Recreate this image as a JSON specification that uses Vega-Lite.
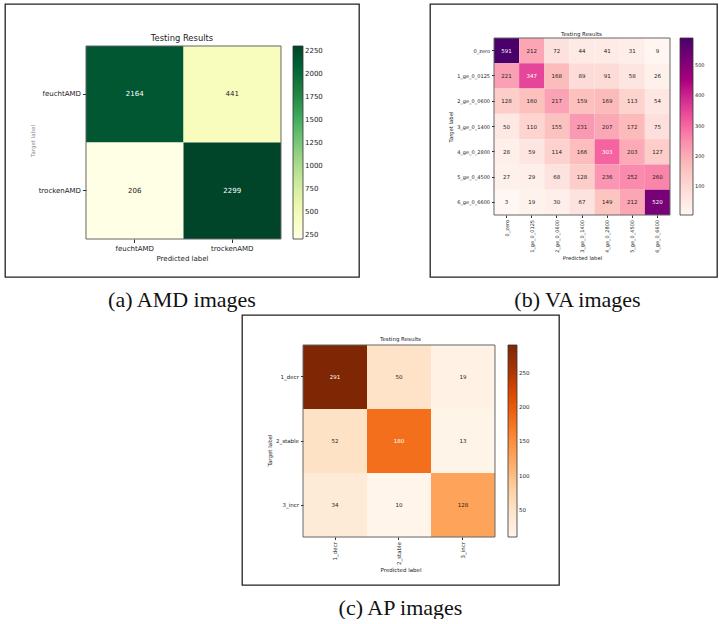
{
  "$schema": "https://vega.github.io/schema/vega-lite/v6.json",
  "padding": {"left": 4, "top": 3, "right": 2, "bottom": 0},
  "background": "white",
  "config": {
    "font": "DejaVu Sans",
    "view": {"stroke": "#222", "strokeWidth": 1.3},
    "axis": {"domain": false, "grid": false, "tickColor": "#333", "tickSize": 3.5, "labelColor": "#222", "titleColor": "#222", "titleFontWeight": "normal", "labelPadding": 2, "titlePadding": 3, "labelFont": "DejaVu Sans", "titleFont": "DejaVu Sans"},
    "legend": {"labelColor": "#222", "labelOverlap": false, "labelFont": "DejaVu Sans"},
    "title": {"fontWeight": "normal", "color": "#222", "font": "DejaVu Sans"}
  },
  "datasets": {
    "amd": [
      {"target": "feuchtAMD", "predicted": "feuchtAMD", "value": 2164},
      {"target": "feuchtAMD", "predicted": "trockenAMD", "value": 441},
      {"target": "trockenAMD", "predicted": "feuchtAMD", "value": 206},
      {"target": "trockenAMD", "predicted": "trockenAMD", "value": 2299}
    ],
    "va": [
      {"target": "0_zero", "predicted": "0_zero", "value": 591},
      {"target": "0_zero", "predicted": "1_ge_0_0125", "value": 212},
      {"target": "0_zero", "predicted": "2_ge_0_0600", "value": 72},
      {"target": "0_zero", "predicted": "3_ge_0_1400", "value": 44},
      {"target": "0_zero", "predicted": "4_ge_0_2800", "value": 41},
      {"target": "0_zero", "predicted": "5_ge_0_4500", "value": 31},
      {"target": "0_zero", "predicted": "6_ge_0_6600", "value": 9},
      {"target": "1_ge_0_0125", "predicted": "0_zero", "value": 221},
      {"target": "1_ge_0_0125", "predicted": "1_ge_0_0125", "value": 347},
      {"target": "1_ge_0_0125", "predicted": "2_ge_0_0600", "value": 168},
      {"target": "1_ge_0_0125", "predicted": "3_ge_0_1400", "value": 89},
      {"target": "1_ge_0_0125", "predicted": "4_ge_0_2800", "value": 91},
      {"target": "1_ge_0_0125", "predicted": "5_ge_0_4500", "value": 58},
      {"target": "1_ge_0_0125", "predicted": "6_ge_0_6600", "value": 26},
      {"target": "2_ge_0_0600", "predicted": "0_zero", "value": 128},
      {"target": "2_ge_0_0600", "predicted": "1_ge_0_0125", "value": 160},
      {"target": "2_ge_0_0600", "predicted": "2_ge_0_0600", "value": 217},
      {"target": "2_ge_0_0600", "predicted": "3_ge_0_1400", "value": 159},
      {"target": "2_ge_0_0600", "predicted": "4_ge_0_2800", "value": 169},
      {"target": "2_ge_0_0600", "predicted": "5_ge_0_4500", "value": 113},
      {"target": "2_ge_0_0600", "predicted": "6_ge_0_6600", "value": 54},
      {"target": "3_ge_0_1400", "predicted": "0_zero", "value": 50},
      {"target": "3_ge_0_1400", "predicted": "1_ge_0_0125", "value": 110},
      {"target": "3_ge_0_1400", "predicted": "2_ge_0_0600", "value": 155},
      {"target": "3_ge_0_1400", "predicted": "3_ge_0_1400", "value": 231},
      {"target": "3_ge_0_1400", "predicted": "4_ge_0_2800", "value": 207},
      {"target": "3_ge_0_1400", "predicted": "5_ge_0_4500", "value": 172},
      {"target": "3_ge_0_1400", "predicted": "6_ge_0_6600", "value": 75},
      {"target": "4_ge_0_2800", "predicted": "0_zero", "value": 28},
      {"target": "4_ge_0_2800", "predicted": "1_ge_0_0125", "value": 59},
      {"target": "4_ge_0_2800", "predicted": "2_ge_0_0600", "value": 114},
      {"target": "4_ge_0_2800", "predicted": "3_ge_0_1400", "value": 166},
      {"target": "4_ge_0_2800", "predicted": "4_ge_0_2800", "value": 303},
      {"target": "4_ge_0_2800", "predicted": "5_ge_0_4500", "value": 203},
      {"target": "4_ge_0_2800", "predicted": "6_ge_0_6600", "value": 127},
      {"target": "5_ge_0_4500", "predicted": "0_zero", "value": 27},
      {"target": "5_ge_0_4500", "predicted": "1_ge_0_0125", "value": 29},
      {"target": "5_ge_0_4500", "predicted": "2_ge_0_0600", "value": 68},
      {"target": "5_ge_0_4500", "predicted": "3_ge_0_1400", "value": 128},
      {"target": "5_ge_0_4500", "predicted": "4_ge_0_2800", "value": 236},
      {"target": "5_ge_0_4500", "predicted": "5_ge_0_4500", "value": 252},
      {"target": "5_ge_0_4500", "predicted": "6_ge_0_6600", "value": 260},
      {"target": "6_ge_0_6600", "predicted": "0_zero", "value": 3},
      {"target": "6_ge_0_6600", "predicted": "1_ge_0_0125", "value": 19},
      {"target": "6_ge_0_6600", "predicted": "2_ge_0_0600", "value": 30},
      {"target": "6_ge_0_6600", "predicted": "3_ge_0_1400", "value": 67},
      {"target": "6_ge_0_6600", "predicted": "4_ge_0_2800", "value": 149},
      {"target": "6_ge_0_6600", "predicted": "5_ge_0_4500", "value": 212},
      {"target": "6_ge_0_6600", "predicted": "6_ge_0_6600", "value": 520}
    ],
    "ap": [
      {"target": "1_decr", "predicted": "1_decr", "value": 291},
      {"target": "1_decr", "predicted": "2_stable", "value": 50},
      {"target": "1_decr", "predicted": "3_incr", "value": 19},
      {"target": "2_stable", "predicted": "1_decr", "value": 52},
      {"target": "2_stable", "predicted": "2_stable", "value": 180},
      {"target": "2_stable", "predicted": "3_incr", "value": 13},
      {"target": "3_incr", "predicted": "1_decr", "value": 34},
      {"target": "3_incr", "predicted": "2_stable", "value": 10},
      {"target": "3_incr", "predicted": "3_incr", "value": 128}
    ]
  },
  "spacing": 3,
  "resolve": {"scale": {"color": "independent"}, "legend": {"color": "independent"}},
  "vconcat": [
    {
      "spacing": 69,
      "resolve": {"scale": {"color": "independent"}, "legend": {"color": "independent"}},
      "hconcat": [
        {
          "title": {"text": "(a) AMD images", "orient": "bottom", "anchor": "middle", "font": "Liberation Serif", "fontSize": 22, "fontWeight": "normal", "color": "#111", "offset": 12},
          "resolve": {"scale": {"color": "independent"}, "legend": {"color": "independent"}},
          "vconcat": [
            {
              "width": 354,
              "height": 273,
              "title": {"text": "Testing Results", "fontSize": 8.4, "offset": -38},
              "data": {"name": "amd"},
              "encoding": {
                "x": {"field": "predicted", "type": "nominal", "sort": ["feuchtAMD", "trockenAMD"], "scale": {"paddingInner": 0, "paddingOuter": 0.8154, "align": 0.5094},
                  "axis": {"labelAngle": 0, "labelFontSize": 7, "title": "Predicted label", "titleFontSize": 7, "offset": -38}},
                "y": {"field": "target", "type": "nominal", "sort": ["feuchtAMD", "trockenAMD"], "scale": {"paddingInner": 0, "paddingOuter": 0.4145, "align": 0.525},
                  "axis": {"labelFontSize": 7, "title": "Target label", "titleFontSize": 5.5, "titleColor": "#888", "offset": -81}}
              },
              "layer": [
                {
                  "mark": "rect",
                  "encoding": {
                    "color": {"field": "value", "type": "quantitative", "scale": {"range": ["#ffffe5", "#f7fcb9", "#d9f0a3", "#addd8e", "#78c679", "#41ab5d", "#238443", "#006837", "#004529"], "zero": false},
                      "legend": {"orient": "none", "legendX": 288, "legendY": 42, "padding": 0, "title": null, "direction": "vertical", "gradientLength": 193, "gradientThickness": 10, "values": [250, 500, 750, 1000, 1250, 1500, 1750, 2000, 2250], "format": "d", "labelFontSize": 7, "gradientStrokeColor": "#333", "gradientStrokeWidth": 0.8}}
                  }
                },
                {
                  "mark": {"type": "text", "fontSize": 7},
                  "encoding": {
                    "text": {"field": "value", "type": "quantitative"},
                    "color": {"condition": {"test": "datum.value > 1149.5", "value": "white"}, "value": "#222"}
                  }
                },
                {
                  "data": {"values": [{}]},
                  "mark": {"type": "rect", "filled": false, "stroke": "#666", "strokeWidth": 1},
                  "encoding": {
                    "x": {"datum": "feuchtAMD", "type": "nominal", "bandPosition": 0},
                    "x2": {"datum": "trockenAMD", "bandPosition": 1},
                    "y": {"datum": "feuchtAMD", "type": "nominal", "bandPosition": 0},
                    "y2": {"datum": "trockenAMD", "bandPosition": 1}
                  }
                }
              ]
            }
          ]
        },
        {
          "title": {"text": "(b) VA images", "orient": "bottom", "anchor": "middle", "font": "Liberation Serif", "fontSize": 22, "fontWeight": "normal", "color": "#111", "offset": 12, "dx": 4},
          "resolve": {"scale": {"color": "independent"}, "legend": {"color": "independent"}},
          "vconcat": [
            {
              "width": 287,
              "height": 273,
              "title": {"text": "Testing Results", "fontSize": 5.5, "offset": -33.5, "dx": 8},
              "data": {"name": "va"},
              "encoding": {
                "x": {"field": "predicted", "type": "nominal", "sort": ["0_zero", "1_ge_0_0125", "2_ge_0_0600", "3_ge_0_1400", "4_ge_0_2800", "5_ge_0_4500", "6_ge_0_6600"], "scale": {"paddingInner": 0, "paddingOuter": 0, "range": [64, 240]},
                  "axis": {"labelAngle": -90, "labelFontSize": 5, "title": "Predicted label", "titleFontSize": 5.3, "tickSize": 2.5, "offset": -62}},
                "y": {"field": "target", "type": "nominal", "sort": ["0_zero", "1_ge_0_0125", "2_ge_0_0600", "3_ge_0_1400", "4_ge_0_2800", "5_ge_0_4500", "6_ge_0_6600"], "scale": {"paddingInner": 0, "paddingOuter": 0, "range": [34, 211]},
                  "axis": {"labelFontSize": 5, "title": "Target label", "titleFontSize": 5.3, "tickSize": 2.5, "offset": -64}}
              },
              "layer": [
                {
                  "mark": "rect",
                  "encoding": {
                    "color": {"field": "value", "type": "quantitative", "scale": {"range": ["#fff7f3", "#fde0dd", "#fcc5c0", "#fa9fb5", "#f768a1", "#dd3497", "#ae017e", "#7a0177", "#49006a"], "zero": false},
                      "legend": {"orient": "none", "legendX": 250, "legendY": 34, "padding": 0, "title": null, "direction": "vertical", "gradientLength": 177, "gradientThickness": 13, "values": [100, 200, 300, 400, 500], "format": "d", "labelFontSize": 5, "gradientStrokeColor": "#333", "gradientStrokeWidth": 0.8}}
                  }
                },
                {
                  "mark": {"type": "text", "fontSize": 5.5},
                  "encoding": {
                    "text": {"field": "value", "type": "quantitative"},
                    "color": {"condition": {"test": "datum.value > 295.5", "value": "white"}, "value": "#222"}
                  }
                },
                {
                  "data": {"values": [{}]},
                  "mark": {"type": "rect", "filled": false, "stroke": "#666", "strokeWidth": 1},
                  "encoding": {
                    "x": {"datum": "0_zero", "type": "nominal", "bandPosition": 0},
                    "x2": {"datum": "6_ge_0_6600", "bandPosition": 1},
                    "y": {"datum": "0_zero", "type": "nominal", "bandPosition": 0},
                    "y2": {"datum": "6_ge_0_6600", "bandPosition": 1}
                  }
                }
              ]
            }
          ]
        }
      ]
    },
    {
      "spacing": 0,
      "resolve": {"scale": {"color": "independent"}, "legend": {"color": "independent"}},
      "hconcat": [
        {
          "width": 236,
          "height": 10,
          "view": {"stroke": null},
          "data": {"values": []},
          "mark": "point",
          "encoding": {}
        },
        {
          "title": {"text": "(c) AP images", "orient": "bottom", "anchor": "middle", "font": "Liberation Serif", "fontSize": 22, "fontWeight": "normal", "color": "#111", "offset": 12},
          "resolve": {"scale": {"color": "independent"}, "legend": {"color": "independent"}},
          "vconcat": [
            {
              "width": 317,
              "height": 270,
              "title": {"text": "Testing Results", "fontSize": 5.5, "offset": -27},
              "data": {"name": "ap"},
              "encoding": {
                "x": {"field": "predicted", "type": "nominal", "sort": ["1_decr", "2_stable", "3_incr"], "scale": {"paddingInner": 0, "paddingOuter": 0.9766, "align": 0.488},
                  "axis": {"labelAngle": -90, "labelFontSize": 5.5, "title": "Predicted label", "titleFontSize": 5.5, "tickSize": 2.5, "offset": -48}},
                "y": {"field": "target", "type": "nominal", "sort": ["1_decr", "2_stable", "3_incr"], "scale": {"paddingInner": 0, "paddingOuter": 0.609, "align": 0.3846},
                  "axis": {"labelFontSize": 5.5, "title": "Target label", "titleFontSize": 5.5, "tickSize": 2.5, "offset": -61}}
              },
              "layer": [
                {
                  "mark": "rect",
                  "encoding": {
                    "color": {"field": "value", "type": "quantitative", "scale": {"range": ["#fff5eb", "#fee6ce", "#fdd0a2", "#fdae6b", "#fd8d3c", "#f16913", "#d94801", "#a63603", "#7f2704"], "zero": false},
                      "legend": {"orient": "none", "legendX": 266, "legendY": 30, "padding": 0, "title": null, "direction": "vertical", "gradientLength": 192, "gradientThickness": 9, "values": [50, 100, 150, 200, 250], "format": "d", "labelFontSize": 5.5, "gradientStrokeColor": "#333", "gradientStrokeWidth": 0.8}}
                  }
                },
                {
                  "mark": {"type": "text", "fontSize": 5.5},
                  "encoding": {
                    "text": {"field": "value", "type": "quantitative"},
                    "color": {"condition": {"test": "datum.value > 145.5", "value": "white"}, "value": "#222"}
                  }
                },
                {
                  "data": {"values": [{}]},
                  "mark": {"type": "rect", "filled": false, "stroke": "#666", "strokeWidth": 1},
                  "encoding": {
                    "x": {"datum": "1_decr", "type": "nominal", "bandPosition": 0},
                    "x2": {"datum": "3_incr", "bandPosition": 1},
                    "y": {"datum": "1_decr", "type": "nominal", "bandPosition": 0},
                    "y2": {"datum": "3_incr", "bandPosition": 1}
                  }
                }
              ]
            }
          ]
        }
      ]
    }
  ]
}
